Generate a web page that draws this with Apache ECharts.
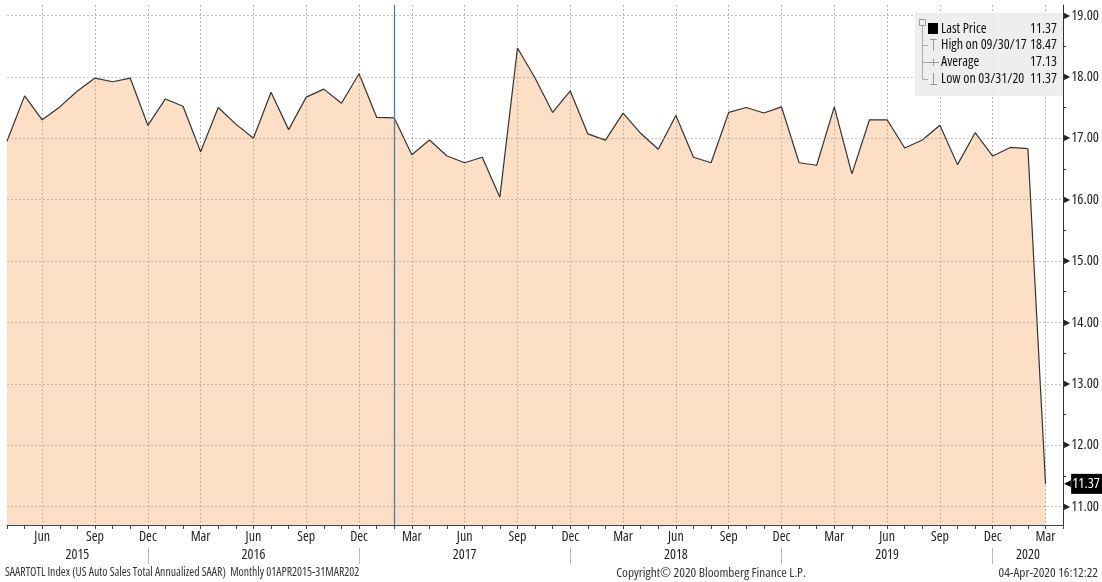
<!DOCTYPE html>
<html><head><meta charset="utf-8">
<script src="https://cdn.jsdelivr.net/npm/echarts@6/dist/echarts.min.js"></script>
<style>html,body{margin:0;padding:0;background:#fff}#c{width:1102px;height:582px}</style>
</head><body><div id="c"></div>
<script>
// ---- data ----
const months = [
 'Apr 2015','May 2015','Jun 2015','Jul 2015','Aug 2015','Sep 2015','Oct 2015','Nov 2015','Dec 2015',
 'Jan 2016','Feb 2016','Mar 2016','Apr 2016','May 2016','Jun 2016','Jul 2016','Aug 2016','Sep 2016','Oct 2016','Nov 2016','Dec 2016',
 'Jan 2017','Feb 2017','Mar 2017','Apr 2017','May 2017','Jun 2017','Jul 2017','Aug 2017','Sep 2017','Oct 2017','Nov 2017','Dec 2017',
 'Jan 2018','Feb 2018','Mar 2018','Apr 2018','May 2018','Jun 2018','Jul 2018','Aug 2018','Sep 2018','Oct 2018','Nov 2018','Dec 2018',
 'Jan 2019','Feb 2019','Mar 2019','Apr 2019','May 2019','Jun 2019','Jul 2019','Aug 2019','Sep 2019','Oct 2019','Nov 2019','Dec 2019',
 'Jan 2020','Feb 2020','Mar 2020'
];
const sales = [
 16.95,17.69,17.30,17.51,17.77,17.98,17.92,17.98,17.21,
 17.64,17.52,16.78,17.50,17.23,17.00,17.75,17.14,17.67,17.80,17.57,18.05,
 17.34,17.33,16.73,16.97,16.71,16.60,16.69,16.04,18.47,17.98,17.42,17.77,
 17.07,16.97,17.41,17.08,16.82,17.37,16.69,16.60,17.42,17.50,17.41,17.51,
 16.60,16.56,17.51,16.42,17.30,17.30,16.84,16.97,17.21,16.57,17.09,16.71,
 16.85,16.83,11.37
];
const yTickValues = [11,12,13,14,15,16,17,18,19];
const yMinorTicks = [11.5,12.5,13.5,14.5,15.5,16.5,17.5,18.5];
const quarterMonths = ['Mar','Jun','Sep','Dec'];
const yearLabelAt = ['Aug 2015','Jun 2016','Jun 2017','Jun 2018','Jun 2019','Feb 2020'];
const markerMonth = 'Feb 2017';
const legendRows = [
  ['Last Price','11.37'],
  ['High on 09/30/17','18.47'],
  ['Average','17.13'],
  ['Low on 03/31/20','11.37']
];
const footLeft = 'SAARTOTL Index (US Auto Sales Total Annualized SAAR)  Monthly 01APR2015-31MAR202';
const footMid = 'Copyright\u00A9 2020 Bloomberg Finance L.P.';
const footRight = '04-Apr-2020 16:12:22';

// ---- chart ----
const FAM = '"Open Sans","DejaVu Sans",sans-serif';
const CND = 'condensed';
const f = px => CND + ' ' + px + 'px ' + FAM;
const cats = months.concat(['']);
const seriesData = sales.concat([null]);
const last = sales[sales.length - 1];
const chart = echarts.init(document.getElementById('c'), null, {renderer:'canvas'});

const gridLineStyle = {color:'rgba(140,140,140,0.5)', type:[2,2], width:1};

const rowY = [29, 45, 62, 79];
const graphics = [
  {type:'rect', z:100, shape:{x:915, y:13, width:148, height:83}, style:{fill:'rgba(236,236,236,0.9)'}},
  {type:'rect', z:101, shape:{x:919.5, y:19.5, width:6, height:6}, style:{fill:'none', stroke:'#999', lineWidth:1}},
  {type:'polyline', z:101, shape:{points:[[922.5,26],[922.5,rowY[3]+0.5],[928,rowY[3]+0.5]]}, style:{stroke:'#aaa', fill:'none', lineWidth:1}},
  {type:'line', z:101, shape:{x1:922.5,y1:rowY[1]+0.5,x2:928,y2:rowY[1]+0.5}, style:{stroke:'#aaa', lineWidth:1}},
  {type:'line', z:101, shape:{x1:922.5,y1:rowY[2]+0.5,x2:927,y2:rowY[2]+0.5}, style:{stroke:'#aaa', lineWidth:1}},
  {type:'rect', z:101, shape:{x:928, y:23, width:10, height:11}, style:{fill:'#000'}},
  {type:'line', z:101, shape:{x1:930,y1:39.5,x2:937,y2:39.5}, style:{stroke:'#999', lineWidth:1}},
  {type:'line', z:101, shape:{x1:933.5,y1:39.5,x2:933.5,y2:51}, style:{stroke:'#999', lineWidth:1}},
  {type:'line', z:101, shape:{x1:927,y1:62.5,x2:939,y2:62.5}, style:{stroke:'#999', lineWidth:1}},
  {type:'line', z:101, shape:{x1:933.5,y1:59,x2:933.5,y2:66}, style:{stroke:'#999', lineWidth:1}},
  {type:'line', z:101, shape:{x1:933.5,y1:73,x2:933.5,y2:84.5}, style:{stroke:'#999', lineWidth:1}},
  {type:'line', z:101, shape:{x1:930,y1:84.5,x2:937,y2:84.5}, style:{stroke:'#999', lineWidth:1}},
  {type:'text', x:5, y:573, style:{text:footLeft, font:f(11.8), fill:'#333', verticalAlign:'middle'}},
  {type:'text', x:711, y:573, style:{text:footMid, font:f(13.3), fill:'#333', verticalAlign:'middle', align:'center'}},
  {type:'text', x:1098, y:573, style:{text:footRight, font:f(13.3), fill:'#333', verticalAlign:'middle', align:'right'}}
];
legendRows.forEach((r, i) => {
  graphics.push({type:'text', z:102, x:941, y:rowY[i], style:{text:r[0], font:f(14), fill:'#111', verticalAlign:'middle'}});
  graphics.push({type:'text', z:102, x:1057, y:rowY[i], style:{text:r[1], font:f(14), fill:'#111', verticalAlign:'middle', align:'right'}});
});

const txt = (px, color) => ({fontSize:px, fontFamily:FAM, fontWeight:CND, color:color || '#222'});

const option = {
  animation:false,
  backgroundColor:'#fff',
  grid:{left:7, right:36, top:5, bottom:57, containLabel:false},
  xAxis:[{
    type:'category', data:cats, boundaryGap:false, position:'bottom',
    axisLine:{show:true, lineStyle:{color:'#444', width:1}},
    axisTick:{show:true, interval:0, length:4, lineStyle:{color:'#444'}},
    axisLabel:Object.assign({
      interval:(i, v) => quarterMonths.indexOf(v.slice(0,3)) >= 0,
      formatter:v => v.slice(0,3), margin:5
    }, txt(14)),
    splitLine:{show:true, interval:(i, v) => quarterMonths.indexOf(v.slice(0,3)) >= 0, lineStyle:{color:'#b8b8b8', type:[2,2], width:1}}
  },{
    type:'category', data:cats, boundaryGap:false, position:'bottom', offset:23,
    axisLine:{show:false},
    axisTick:{show:true, interval:(i, v) => v.slice(0,3) === 'Dec', length:16, lineStyle:{color:'#bbb'}},
    axisLabel:Object.assign({
      interval:(i, v) => yearLabelAt.indexOf(v) >= 0,
      formatter:v => v.slice(4), margin:0
    }, txt(14)),
    splitLine:{show:false}
  }],
  yAxis:{
    type:'value', position:'right', min:10.7, max:19.17, scale:true,
    axisLine:{show:true, lineStyle:{color:'#333', width:1}},
    axisTick:{show:true, customValues:yMinorTicks, length:3, lineStyle:{color:'#333'}},
    axisLabel:{
      customValues:yTickValues, margin:1,
      formatter:v => '{a|\u25B6}{b|' + v.toFixed(2) + '}',
      rich:{a:{fontSize:8, color:'#222'}, b:Object.assign({padding:[0,0,0,1]}, txt(14.5))}
    },
    splitLine:{show:false}
  },
  series:[{
    type:'line', data:seriesData, xAxisIndex:0, symbol:'none', silent:true,
    lineStyle:{color:'#333', width:1.2},
    areaStyle:{color:'rgba(245,160,85,0.34)', opacity:1, origin:'start'},
    markLine:{
      silent:true, symbol:['none','none'], animation:false,
      label:{show:false},
      lineStyle:gridLineStyle,
      data: yTickValues.map(v => ({yAxis:v})).concat([
        {xAxis:markerMonth, lineStyle:{color:'#4a7fb0', type:'solid', width:1.3}},
        {yAxis:last, lineStyle:{color:'rgba(0,0,0,0)', width:0},
         label:{show:true, position:'end', distance:1,
           formatter:'{a|\u25C0}{b|' + last.toFixed(2) + '}',
           rich:{a:{color:'#000', fontSize:9}, b:Object.assign({backgroundColor:'#000', padding:[3,2,2,1]}, txt(14.5, '#fff'))}}}
      ])
    }
  }],
  graphic:graphics
};
chart.setOption(option);
</script></body></html>
